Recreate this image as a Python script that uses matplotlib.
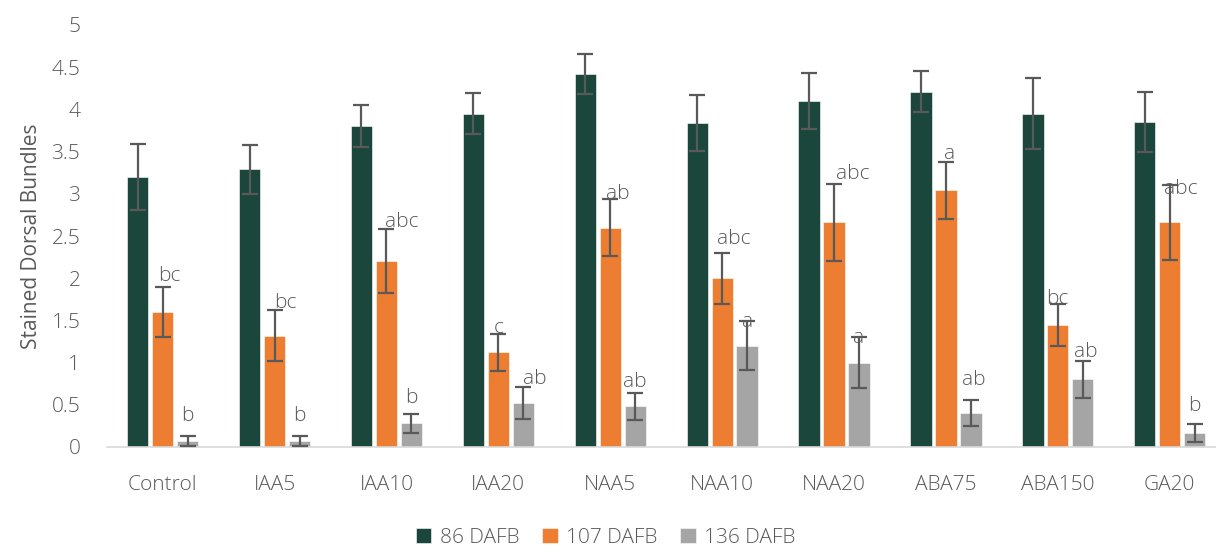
import matplotlib
matplotlib.use("Agg")
import matplotlib.pyplot as plt
from matplotlib import font_manager
import numpy as np

# Treatments and sampling dates
categories = ["Control", "IAA5", "IAA10", "IAA20", "NAA5", "NAA10", "NAA20", "ABA75", "ABA150", "GA20"]
series_names = ["86 DAFB", "107 DAFB", "136 DAFB"]

# Mean stained dorsal bundles per treatment
mean_86 = [3.20, 3.29, 3.80, 3.95, 4.42, 3.84, 4.10, 4.21, 3.95, 3.85]
mean_107 = [1.60, 1.32, 2.20, 1.12, 2.60, 2.00, 2.66, 3.04, 1.45, 2.66]
mean_136 = [0.07, 0.07, 0.28, 0.52, 0.48, 1.20, 1.00, 0.40, 0.80, 0.17]

# Standard errors
err_86 = [0.39, 0.29, 0.25, 0.24, 0.24, 0.33, 0.33, 0.245, 0.42, 0.36]
err_107 = [0.30, 0.30, 0.38, 0.22, 0.34, 0.30, 0.46, 0.34, 0.25, 0.45]
err_136 = [0.055, 0.055, 0.11, 0.19, 0.165, 0.29, 0.30, 0.155, 0.215, 0.105]

# Significance letters
letters_107 = ["bc", "bc", "abc", "c", "ab", "abc", "abc", "a", "bc", "abc"]
letters_136 = ["b", "b", "b", "ab", "ab", "a", "a", "ab", "ab", "b"]

# Placement of the letter annotations (centre height, horizontal nudge in bar units)
letter_y_107 = [2.03, 1.71, 2.67, 1.41, 3.00, 2.46, 3.24, 3.47, 1.75, 3.06]
letter_dx_107 = [0.06, 0.10, 0.14, 0.0, 0.07, 0.10, 0.17, 0.03, 0.0, 0.10]
letter_y_136 = [0.37, 0.37, 0.58, 0.81, 0.77, 1.48, 1.29, 0.79, 1.13, 0.48]
letter_dx_136 = [0.0, 0.0, 0.0, 0.10, 0.0, 0.0, 0.0, 0.03, 0.03, 0.0]

colors = ["#1B463B", "#ED7D31", "#A5A5A5"]
text_color = "#595959"

available = {f.name for f in font_manager.fontManager.ttflist}
family = "Open Sans" if "Open Sans" in available else "DejaVu Sans"
plt.rcParams["font.family"] = [family, "DejaVu Sans"]
plt.rcParams["font.weight"] = "light"

fig = plt.figure(figsize=(12.16, 5.56), dpi=100)
W, H = 1216, 556
x_left_px, x_right_px = 106.7, 1216
y0_px, y5_px = 447, 25
ax_w_px = x_right_px - x_left_px
ax = fig.add_axes([x_left_px / W, (H - y0_px) / H, ax_w_px / W, (y0_px - y5_px) / H])

x = np.arange(len(categories))
step = 0.223
width = 0.19
means = [mean_86, mean_107, mean_136]
errs = [err_86, err_107, err_136]

for i, (m, e, c, name) in enumerate(zip(means, errs, colors, series_names)):
    pos = x + (i - 1) * step
    ax.bar(pos, m, width=width, color=c, edgecolor="white", linewidth=0.4, label=name, zorder=2)
    ax.errorbar(pos, m, yerr=e, fmt="none", ecolor=text_color, elinewidth=1.6,
                capsize=6, capthick=1.6, zorder=3)

for j in range(len(categories)):
    ax.text(x[j] + letter_dx_107[j], letter_y_107[j], letters_107[j], ha="center", va="center",
            fontsize=15, color=text_color, zorder=4)
    ax.text(x[j] + step + letter_dx_136[j], letter_y_136[j], letters_136[j], ha="center", va="center",
            fontsize=15, color=text_color, zorder=4)

span_units = ax_w_px / 111.9
ax.set_xlim(-0.5, -0.5 + span_units)
ax.set_ylim(0, 5)
ax.set_yticks(np.arange(0, 5.01, 0.5))
ax.set_yticklabels(["0", "0.5", "1", "1.5", "2", "2.5", "3", "3.5", "4", "4.5", "5"])
ax.set_xticks(x)
ax.set_xticklabels(categories)
ax.tick_params(axis="both", length=0, labelsize=15, colors=text_color)
ax.tick_params(axis="y", pad=19)
ax.tick_params(axis="x", pad=20)

for s in ["top", "right", "left"]:
    ax.spines[s].set_visible(False)
ax.spines["bottom"].set_color("#D9D9D9")
ax.spines["bottom"].set_linewidth(1.2)

ax.set_ylabel("Stained Dorsal Bundles", fontsize=15, color=text_color)
ax.yaxis.set_label_coords((42 - x_left_px) / ax_w_px, 0.5)

handles, labels = ax.get_legend_handles_labels()
leg = fig.legend(handles, labels, loc="center", bbox_to_anchor=(0.498, (H - 538) / H), ncol=3,
                 frameon=False, fontsize=15, handlelength=0.75, handleheight=0.75,
                 handletextpad=0.4, columnspacing=1.1)
for t in leg.get_texts():
    t.set_color(text_color)

fig.savefig("out.png", dpi=100)
